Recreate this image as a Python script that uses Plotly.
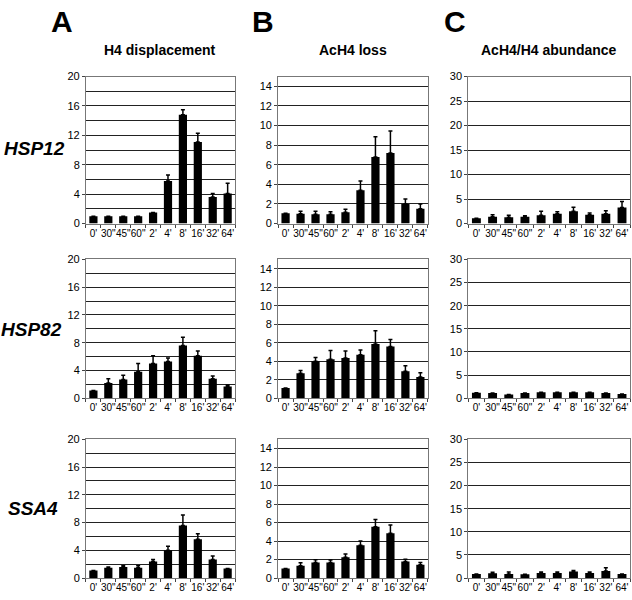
import plotly.graph_objects as go
from plotly.subplots import make_subplots

# Tiempos de muestreo
times = ["0'", '30"', '45"', '60"', "2'", "4'", "8'", "16'", "32'", "64'"]

genes = ['HSP12', 'HSP82', 'SSA4']
panel_titles = ['H4 displacement', 'AcH4 loss', 'AcH4/H4 abundance']
panel_letters = ['A', 'B', 'C']

# H4 displacement
h4_hsp12 = [1.0, 1.0, 1.0, 1.0, 1.5, 5.8, 14.8, 11.1, 3.6, 4.1]
h4_hsp12_err = [0, 0, 0, 0, 0, 0.8, 0.7, 1.2, 0.5, 1.4]
h4_hsp82 = [1.1, 2.2, 2.7, 3.8, 5.0, 5.3, 7.6, 6.1, 2.8, 1.7]
h4_hsp82_err = [0, 0.6, 0.6, 1.2, 1.1, 0.5, 1.2, 0.7, 0.4, 0.2]
h4_ssa4 = [1.1, 1.5, 1.6, 1.5, 2.4, 4.0, 7.6, 5.6, 2.7, 1.4]
h4_ssa4_err = [0, 0.1, 0.2, 0.3, 0.3, 0.6, 1.5, 0.8, 0.5, 0]

# AcH4 loss
ac_hsp12 = [1.05, 1.0, 0.95, 0.95, 1.15, 3.4, 6.8, 7.2, 2.0, 1.5]
ac_hsp12_err = [0, 0.25, 0.3, 0.25, 0.3, 0.95, 2.05, 2.25, 0.5, 0.5]
ac_hsp82 = [1.1, 2.7, 4.0, 4.2, 4.35, 4.7, 5.85, 5.6, 2.9, 2.3]
ac_hsp82_err = [0, 0.3, 0.4, 0.95, 0.75, 0.5, 1.45, 0.75, 0.6, 0.45]
ac_ssa4 = [1.05, 1.35, 1.7, 1.7, 2.25, 3.55, 5.55, 4.85, 1.8, 1.45]
ac_ssa4_err = [0, 0.3, 0.3, 0.25, 0.35, 0.45, 0.8, 0.9, 0.25, 0.25]

# AcH4/H4 abundance
ab_hsp12 = [1.1, 1.4, 1.3, 1.4, 1.7, 2.0, 2.5, 1.8, 2.0, 3.3]
ab_hsp12_err = [0, 0.4, 0.4, 0.2, 0.8, 0.4, 0.85, 0.35, 0.6, 1.2]
ab_hsp82 = [1.2, 1.1, 0.8, 1.1, 1.3, 1.3, 1.3, 1.3, 1.1, 0.9]
ab_hsp82_err = [0, 0, 0, 0, 0, 0, 0, 0, 0, 0]
ab_ssa4 = [0.9, 1.05, 0.9, 0.85, 1.1, 1.1, 1.45, 1.1, 1.55, 0.9]
ab_ssa4_err = [0, 0.2, 0.4, 0, 0.2, 0.2, 0.2, 0.2, 0.7, 0]

values = [
    [(h4_hsp12, h4_hsp12_err), (ac_hsp12, ac_hsp12_err), (ab_hsp12, ab_hsp12_err)],
    [(h4_hsp82, h4_hsp82_err), (ac_hsp82, ac_hsp82_err), (ab_hsp82, ab_hsp82_err)],
    [(h4_ssa4, h4_ssa4_err), (ac_ssa4, ac_ssa4_err), (ab_ssa4, ab_ssa4_err)],
]

# Configuracion de ejes por columna: (rango, dtick etiquetas, dtick grilla)
y_config = [([0, 20], 4, 2), ([0, 15], 2, 2), ([0, 30], 5, 5)]

x_domains = [[0.136, 0.372], [0.440, 0.677], [0.741, 0.997]]
y_domains = [[0.630, 0.880], [0.333, 0.569], [0.027, 0.263]]

FONT = 'Liberation Sans, Arial, sans-serif'

fig = make_subplots(rows=3, cols=3)

for r in range(3):
    for c in range(3):
        y, err = values[r][c]
        fig.add_trace(
            go.Bar(
                x=times,
                y=y,
                marker=dict(color='black', line=dict(width=0)),
                error_y=dict(
                    type='data',
                    symmetric=False,
                    array=err,
                    arrayminus=[0] * len(err),
                    color='black',
                    thickness=1.5,
                    width=2
                ),
                showlegend=False
            ),
            row=r + 1, col=c + 1
        )
        rng, dt, minor_dt = y_config[c]
        fig.update_xaxes(
            domain=x_domains[c],
            showline=True, linecolor='#777', linewidth=1,
            mirror=True,
            ticks='outside', tickson='boundaries', ticklen=3,
            tickcolor='#444', tickangle=0,
            tickfont=dict(family=FONT, size=10, color='black'),
            showgrid=False,
            row=r + 1, col=c + 1
        )
        fig.update_yaxes(
            domain=y_domains[r],
            range=rng, dtick=dt,
            showline=True, linecolor='#777', linewidth=1, mirror=True,
            ticks='outside', ticklen=3, tickcolor='#444',
            tickfont=dict(family=FONT, size=11, color='black'),
            showgrid=True, gridcolor='#222', gridwidth=1,
            minor=dict(dtick=minor_dt, showgrid=True, gridcolor='#222', gridwidth=1),
            zeroline=False,
            row=r + 1, col=c + 1
        )

annotations = []
letter_x = [62, 263, 455]
title_x = [160, 353, 549]
for c in range(3):
    annotations.append(dict(
        text='<b>%s</b>' % panel_letters[c], x=letter_x[c] / 632, y=1 - 16 / 600,
        xref='paper', yref='paper', showarrow=False,
        xanchor='center', yanchor='middle',
        font=dict(family=FONT, size=30, color='black')
    ))
    annotations.append(dict(
        text='<b>%s</b>' % panel_titles[c], x=title_x[c] / 632, y=1 - 45 / 600,
        xref='paper', yref='paper', showarrow=False,
        xanchor='center', yanchor='middle',
        font=dict(family=FONT, size=14, color='black')
    ))

gene_x = [34, 31, 33]
gene_y = [145, 330, 513]
for r in range(3):
    annotations.append(dict(
        text='<b><i>%s</i></b>' % genes[r], x=gene_x[r] / 632, y=1 - gene_y[r] / 600,
        xref='paper', yref='paper', showarrow=False,
        xanchor='center', yanchor='middle',
        font=dict(family=FONT, size=19, color='black')
    ))

fig.update_layout(
    width=632, height=600,
    margin=dict(l=0, r=0, t=0, b=0),
    paper_bgcolor='white', plot_bgcolor='white',
    bargap=0.45,
    annotations=annotations
)

# Quitar el margen del body y la barra de herramientas
fig.write_html(
    "out.html",
    config={'displayModeBar': False},
    post_script="document.body.style.margin='0';"
)
